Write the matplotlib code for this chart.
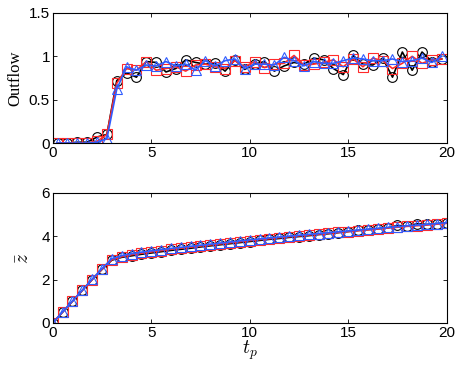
import matplotlib
matplotlib.use("Agg")
import matplotlib.pyplot as plt

plt.rcParams['font.family'] = ['Liberation Sans', 'DejaVu Sans']
plt.rcParams['mathtext.fontset'] = 'cm'

# Top panel: outflow (sampled at bin centres)
t_top = [0.25, 0.75, 1.25, 1.75, 2.25, 2.75, 3.25, 3.75, 4.25, 4.75,
         5.25, 5.75, 6.25, 6.75, 7.25, 7.75, 8.25, 8.75, 9.25, 9.75,
         10.25, 10.75, 11.25, 11.75, 12.25, 12.75, 13.25, 13.75, 14.25, 14.75,
         15.25, 15.75, 16.25, 16.75, 17.25, 17.75, 18.25, 18.75, 19.25, 19.75]
out_black = [0.0, 0.0, 0.01, 0.01, 0.07, 0.10, 0.72, 0.81, 0.76, 0.94,
             0.93, 0.82, 0.86, 0.96, 0.93, 0.91, 0.92, 0.83, 0.96, 0.85,
             0.91, 0.94, 0.83, 0.89, 0.93, 0.91, 0.98, 0.96, 0.86, 0.79,
             1.01, 0.91, 0.90, 0.98, 0.76, 1.05, 0.84, 1.05, 0.94, 0.97]
out_red = [0.0, 0.0, 0.0, 0.0, 0.02, 0.10, 0.69, 0.86, 0.84, 0.94,
           0.84, 0.86, 0.88, 0.83, 0.90, 0.91, 0.88, 0.86, 0.95, 0.88,
           0.94, 0.87, 0.91, 0.92, 1.01, 0.90, 0.91, 0.93, 0.96, 0.88,
           0.97, 0.88, 0.98, 0.95, 0.86, 0.92, 1.00, 0.92, 0.96, 0.97]
out_blue = [0.0, 0.0, 0.0, 0.0, 0.01, 0.05, 0.62, 0.88, 0.84, 0.90,
            0.89, 0.94, 0.89, 0.91, 0.84, 0.95, 0.89, 0.95, 0.97, 0.86,
            0.91, 0.91, 0.90, 0.99, 0.95, 0.89, 0.94, 0.92, 0.92, 0.95,
            0.98, 0.97, 0.95, 0.95, 0.97, 0.94, 0.95, 0.98, 0.93, 1.00]

# Bottom panel: mean height
t_bot = [0.0, 0.5, 1.0, 1.5, 2.0, 2.5, 3.0, 3.5, 4.0, 4.5,
         5.0, 5.5, 6.0, 6.5, 7.0, 7.5, 8.0, 8.5, 9.0, 9.5,
         10.0, 10.5, 11.0, 11.5, 12.0, 12.5, 13.0, 13.5, 14.0, 14.5,
         15.0, 15.5, 16.0, 16.5, 17.0, 17.5, 18.0, 18.5, 19.0, 19.5, 20.0]
z_black = [0.0, 0.50, 1.00, 1.50, 2.00, 2.47, 2.90, 3.03, 3.10, 3.17,
           3.23, 3.29, 3.35, 3.40, 3.45, 3.51, 3.56, 3.61, 3.66, 3.71,
           3.76, 3.81, 3.86, 3.90, 3.95, 3.99, 4.03, 4.08, 4.12, 4.17,
           4.22, 4.27, 4.31, 4.35, 4.39, 4.50, 4.47, 4.58, 4.55, 4.59, 4.63]
z_red = [0.0, 0.50, 1.00, 1.50, 2.00, 2.48, 2.92, 3.06, 3.15, 3.22,
         3.28, 3.34, 3.40, 3.45, 3.50, 3.55, 3.60, 3.65, 3.70, 3.75,
         3.80, 3.85, 3.89, 3.94, 3.98, 4.02, 4.06, 4.10, 4.14, 4.18,
         4.22, 4.26, 4.30, 4.34, 4.38, 4.42, 4.46, 4.49, 4.52, 4.56, 4.60]
z_blue = [0.0, 0.51, 1.01, 1.51, 2.02, 2.51, 2.97, 3.11, 3.20, 3.27,
          3.33, 3.39, 3.44, 3.49, 3.54, 3.59, 3.64, 3.69, 3.74, 3.79,
          3.84, 3.88, 3.93, 3.97, 4.01, 4.05, 4.09, 4.13, 4.17, 4.21,
          4.25, 4.29, 4.33, 4.37, 4.41, 4.45, 4.49, 4.52, 4.55, 4.59, 4.63]

c_black = '#000000'
c_red = '#ff2a2a'
c_blue = '#2f5cff'

fig = plt.figure(figsize=(4.6, 3.66), dpi=100)
ax1 = fig.add_axes([0.1146, 0.609, 0.8564, 0.3555])
ax2 = fig.add_axes([0.1146, 0.1175, 0.8564, 0.3552])

def draw(ax, t, ys):
    for y, c, m in zip(ys, [c_black, c_red, c_blue], ['o', 's', '^']):
        ax.plot(t, y, color=c, marker=m, markerfacecolor='none',
                markeredgecolor=c, markersize=7, markeredgewidth=0.8,
                linewidth=1.2)

draw(ax1, t_top, [out_black, out_red, out_blue])
draw(ax2, t_bot, [z_black, z_red, z_blue])

for ax in (ax1, ax2):
    ax.set_xlim(0, 20)
    ax.set_xticks([0, 5, 10, 15, 20])
    ax.tick_params(direction='in', top=True, right=True, labelsize=11,
                   length=3, width=0.6, pad=2)
    for s in ax.spines.values():
        s.set_linewidth(0.8)

ax1.set_ylim(0, 1.5)
ax1.set_yticks([0, 0.5, 1, 1.5])
ax1.set_yticklabels(['0', '0.5', '1', '1.5'])
ax2.set_ylim(0, 6)
ax2.set_yticks([0, 2, 4, 6])

ax1.set_ylabel('Outflow', family=['Liberation Serif', 'DejaVu Serif'],
               fontsize=12, labelpad=4)
ax2.set_ylabel(r'$\bar{z}$', fontsize=14, labelpad=6)
ax2.set_xlabel(r'$t_p$', fontsize=14, labelpad=-1)

fig.savefig('out.png', dpi=100)
